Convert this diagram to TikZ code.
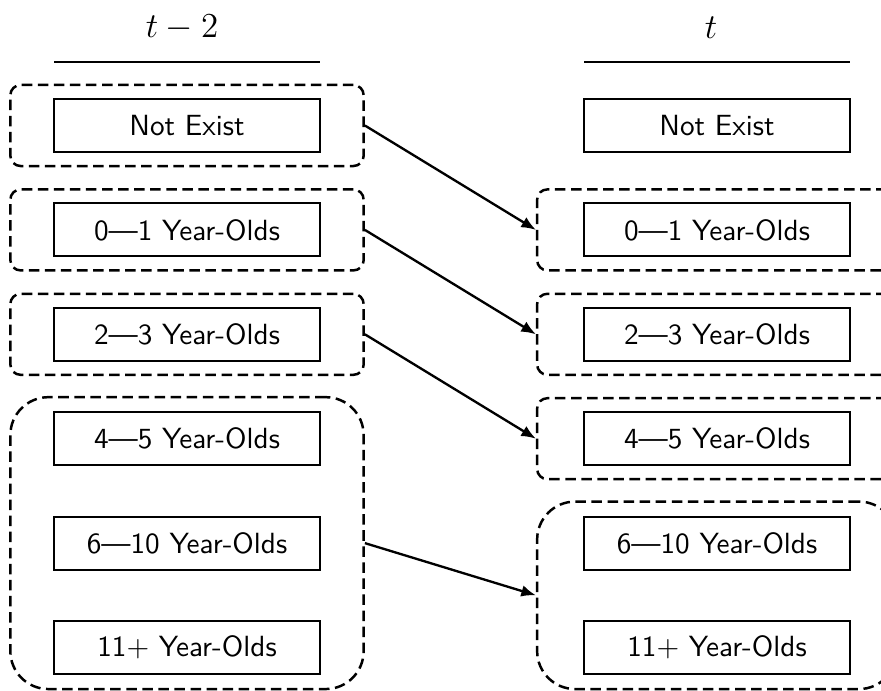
\documentclass[tikz,border=0pt]{standalone}
\usetikzlibrary{arrows.meta,fit}
\begin{document}
\begin{tikzpicture}[x=0.3425pt,y=-0.3425pt,
  agebox/.style={draw, line width=0.7pt, minimum width=91.1pt, minimum height=18.15pt, inner sep=0pt, font=\sffamily},
  grp/.style={draw, dash pattern=on 3.6pt off 1.9pt, line width=0.85pt, rounded corners=3.5pt, inner ysep=4.45pt, inner xsep=14.6pt},
  grpR/.style={grp, inner xsep=15.7pt},
  biggrp/.style={rounded corners=13pt, inner ysep=4.8pt},
  flow/.style={-{Latex[length=5pt,width=4pt]}, line width=0.8pt},
  hdr/.style={font=\large},
  hrule/.style={line width=0.7pt}]
\useasboundingbox (0,0) rectangle (881,690);
% headers
\node[hdr] (hL) at (182,28) {$t-2$};
\node[hdr] (hR) at (711,28) {$t$};
\coordinate (hLa) at (54,62);
\coordinate (hLb) at (320,62);
\coordinate (hRa) at (584,62);
\coordinate (hRb) at (850,62);
\draw[hrule] (hLa) -- (hLb);
\draw[hrule] (hRa) -- (hRb);
% left column
\node[agebox] (L0) at (187,125.5) {Not Exist};
\node[agebox] (L1) at (187,229.9) {0—1 Year-Olds};
\node[agebox] (L2) at (187,334.3) {2—3 Year-Olds};
\node[agebox] (L3) at (187,438.7) {4—5 Year-Olds};
\node[agebox] (L4) at (187,543.1) {6—10 Year-Olds};
\node[agebox] (L5) at (187,647.5) {11+ Year-Olds};
% right column
\node[agebox] (R0) at (717,125.5) {Not Exist};
\node[agebox] (R1) at (717,229.9) {0—1 Year-Olds};
\node[agebox] (R2) at (717,334.3) {2—3 Year-Olds};
\node[agebox] (R3) at (717,438.7) {4—5 Year-Olds};
\node[agebox] (R4) at (717,543.1) {6—10 Year-Olds};
\node[agebox] (R5) at (717,647.5) {11+ Year-Olds};
% groups
\node[grp, fit=(L0)] (gL0) {};
\node[grp, fit=(L1)] (gL1) {};
\node[grp, fit=(L2)] (gL2) {};
\node[grp, biggrp, fit=(L3)(L5)] (gL3) {};
\node[grpR, fit=(R1)] (gR1) {};
\node[grpR, fit=(R2)] (gR2) {};
\node[grpR, fit=(R3)] (gR3) {};
\node[grpR, biggrp, fit=(R4)(R5)] (gR4) {};
% flows
\draw[flow] (gL0.east) -- (gR1.west);
\draw[flow] (gL1.east) -- (gR2.west);
\draw[flow] (gL2.east) -- (gR3.west);
\draw[flow] (gL3.east) -- (gR4.west);
\end{tikzpicture}
\end{document}
